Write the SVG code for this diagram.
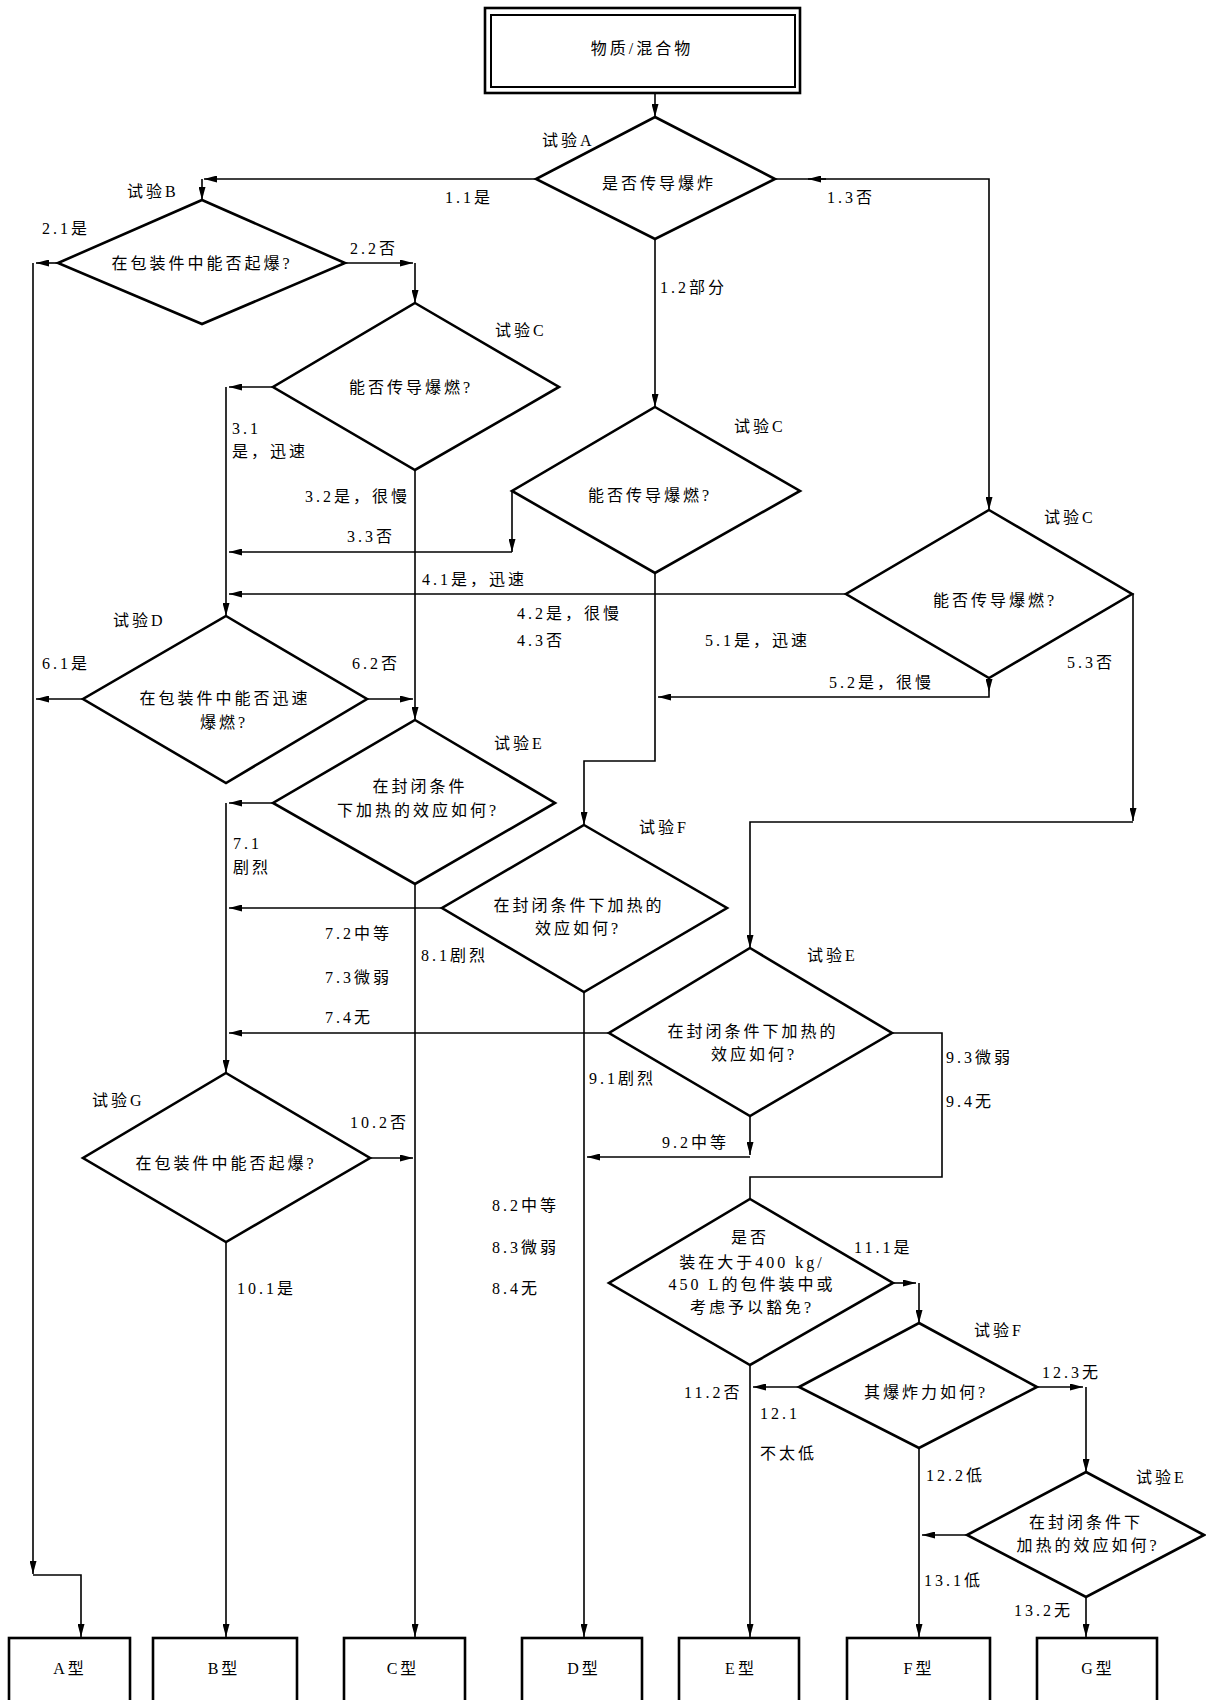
<svg xmlns="http://www.w3.org/2000/svg" width="1206" height="1700" viewBox="0 0 1206 1700">
<defs>
<marker id="ar" markerUnits="userSpaceOnUse" markerWidth="13" markerHeight="7" viewBox="0 0 13 7" refX="13" refY="3.5" orient="auto">
<path d="M0,0 L13,3.5 L0,7 z" fill="#000"/>
</marker>
<style>
.n{fill:#fff;stroke:#000;stroke-width:2.6;stroke-linejoin:miter}
.b{fill:#fff;stroke:#000;stroke-width:2.6}
.c{fill:none;stroke:#000;stroke-width:1.6}
.a{marker-end:url(#ar)}
.t{font-family:"Liberation Serif","Noto Sans CJK SC",serif;font-size:16px;letter-spacing:3px;fill:#000}
.m{text-anchor:middle}
</style>
</defs>
<rect width="1206" height="1700" fill="#fff"/>

<g id="connectors">
<path class="c a" d="M655,93 L655,117"/>
<path class="c a" d="M536,179 L204,179"/>
<path class="c a" d="M202,179 L202,200"/>
<path class="c a" d="M775,179 L989,179 L989,510"/>
<path class="c a" d="M826,179 L808,179"/>
<path class="c a" d="M655,239 L655,407"/>
<path class="c a" d="M58,263 L36,263"/>
<path class="c a" d="M33,263 L33,1574"/>
<path class="c a" d="M33,1575 L81,1575 L81,1637"/>
<path class="c a" d="M345,263 L413,263"/>
<path class="c a" d="M415,263 L415,303"/>
<path class="c a" d="M273,387 L229,387"/>
<path class="c a" d="M226,387 L226,616"/>
<path class="c a" d="M415,470 L415,720"/>
<path class="c a" d="M512,491 L512,552"/>
<path class="c a" d="M512,552 L229,552"/>
<path class="c a" d="M846,594 L229,594"/>
<path class="c a" d="M655,573 L655,761 L584,761 L584,825"/>
<path class="c a" d="M989,678 L989,692"/>
<path class="c a" d="M989,692 L989,697 L658,697"/>
<path class="c a" d="M1132,594 L1133,594 L1133,821"/>
<path class="c a" d="M1133,822 L750,822 L750,948"/>
<path class="c a" d="M83,699 L36,699"/>
<path class="c a" d="M367,699 L413,699"/>
<path class="c a" d="M273,803 L229,803"/>
<path class="c a" d="M226,803 L226,1073"/>
<path class="c a" d="M415,884 L415,1637"/>
<path class="c a" d="M442,908 L229,908"/>
<path class="c a" d="M609,1033 L229,1033"/>
<path class="c a" d="M584,992 L584,1637"/>
<path class="c a" d="M750,1116 L750,1155"/>
<path class="c a" d="M750,1157 L587,1157"/>
<path class="c" d="M892,1033 L942,1033 L942,1177 L750,1177 L750,1199"/>
<path class="c a" d="M893,1283 L916,1283"/>
<path class="c a" d="M919,1283 L919,1323"/>
<path class="c a" d="M750,1365 L750,1637"/>
<path class="c a" d="M799,1387 L753,1387"/>
<path class="c a" d="M1037,1387 L1083,1387"/>
<path class="c a" d="M1086,1387 L1086,1472"/>
<path class="c a" d="M919,1448 L919,1637"/>
<path class="c a" d="M967,1535 L922,1535"/>
<path class="c a" d="M1086,1597 L1086,1637"/>
<path class="c a" d="M370,1158 L413,1158"/>
<path class="c a" d="M226,1242 L226,1637"/>
</g>

<g id="labels">
<text class="t" x="445" y="203">1.1是</text>
<text class="t" x="827" y="203">1.3否</text>
<text class="t" x="660" y="293">1.2部分</text>
<text class="t" x="42" y="234">2.1是</text>
<text class="t" x="350" y="254">2.2否</text>
<text class="t" x="232" y="434">3.1</text>
<text class="t" x="232" y="457">是，迅速</text>
<text class="t" x="305" y="502">3.2是，很慢</text>
<text class="t" x="347" y="542">3.3否</text>
<text class="t" x="422" y="585">4.1是，迅速</text>
<text class="t" x="517" y="619">4.2是，很慢</text>
<text class="t" x="517" y="646">4.3否</text>
<text class="t" x="705" y="646">5.1是，迅速</text>
<text class="t" x="829" y="688">5.2是，很慢</text>
<text class="t" x="1067" y="668">5.3否</text>
<text class="t" x="42" y="669">6.1是</text>
<text class="t" x="352" y="669">6.2否</text>
<text class="t" x="233" y="849">7.1</text>
<text class="t" x="233" y="873">剧烈</text>
<text class="t" x="325" y="939">7.2中等</text>
<text class="t" x="325" y="983">7.3微弱</text>
<text class="t" x="325" y="1023">7.4无</text>
<text class="t" x="421" y="961">8.1剧烈</text>
<text class="t" x="492" y="1211">8.2中等</text>
<text class="t" x="492" y="1253">8.3微弱</text>
<text class="t" x="492" y="1294">8.4无</text>
<text class="t" x="589" y="1084">9.1剧烈</text>
<text class="t" x="662" y="1148">9.2中等</text>
<text class="t" x="946" y="1063">9.3微弱</text>
<text class="t" x="946" y="1107">9.4无</text>
<text class="t" x="237" y="1294">10.1是</text>
<text class="t" x="350" y="1128">10.2否</text>
<text class="t" x="854" y="1253">11.1是</text>
<text class="t" x="684" y="1398">11.2否</text>
<text class="t" x="760" y="1419">12.1</text>
<text class="t" x="760" y="1459">不太低</text>
<text class="t" x="926" y="1481">12.2低</text>
<text class="t" x="1042" y="1378">12.3无</text>
<text class="t" x="924" y="1586">13.1低</text>
<text class="t" x="1014" y="1616">13.2无</text>
</g>

<g id="start">
<rect x="485" y="8" width="315" height="85" fill="#fff" stroke="#000" stroke-width="2.6"/>
<rect x="491" y="15" width="304" height="72" fill="none" stroke="#000" stroke-width="2"/>
<text class="t m" x="642" y="54">物质/混合物</text>
</g>

<g id="testA">
<polygon class="n" points="655,117 775,179 655,239 536,179"/>
<text class="t m" x="659" y="189">是否传导爆炸</text>
<text class="t" x="542" y="146">试验A</text>
</g>

<g id="testB">
<polygon class="n" points="202,200 345,263 202,324 58,263"/>
<text class="t m" x="202" y="269">在包装件中能否起爆?</text>
<text class="t" x="127" y="197">试验B</text>
</g>

<g id="testC1">
<polygon class="n" points="415,303 559,387 415,470 273,387"/>
<text class="t m" x="411" y="393">能否传导爆燃?</text>
<text class="t" x="495" y="336">试验C</text>
</g>

<g id="testC2">
<polygon class="n" points="655,407 800,491 655,573 512,491"/>
<text class="t m" x="650" y="501">能否传导爆燃?</text>
<text class="t" x="734" y="432">试验C</text>
</g>

<g id="testC3">
<polygon class="n" points="989,510 1132,594 989,678 846,594"/>
<text class="t m" x="995" y="606">能否传导爆燃?</text>
<text class="t" x="1044" y="523">试验C</text>
</g>

<g id="testD">
<polygon class="n" points="226,616 367,699 226,783 83,699"/>
<text class="t m" x="225" y="704">在包装件中能否迅速</text>
<text class="t m" x="224" y="728">爆燃?</text>
<text class="t" x="113" y="626">试验D</text>
</g>

<g id="testE1">
<polygon class="n" points="415,720 555,803 415,884 273,803"/>
<text class="t m" x="420" y="792">在封闭条件</text>
<text class="t m" x="418" y="816">下加热的效应如何?</text>
<text class="t" x="494" y="749">试验E</text>
</g>

<g id="testF1">
<polygon class="n" points="584,825 727,908 584,992 442,908"/>
<text class="t m" x="579" y="911">在封闭条件下加热的</text>
<text class="t m" x="578" y="934">效应如何?</text>
<text class="t" x="639" y="833">试验F</text>
</g>

<g id="testE2">
<polygon class="n" points="750,948 892,1033 750,1116 609,1033"/>
<text class="t m" x="753" y="1037">在封闭条件下加热的</text>
<text class="t m" x="754" y="1060">效应如何?</text>
<text class="t" x="807" y="961">试验E</text>
</g>

<g id="q11">
<polygon class="n" points="750,1199 893,1283 750,1365 609,1283"/>
<text class="t m" x="750" y="1243">是否</text>
<text class="t m" x="752" y="1268">装在大于400 kg/</text>
<text class="t m" x="752" y="1290">450 L的包件装中或</text>
<text class="t m" x="752" y="1313">考虑予以豁免?</text>
</g>

<g id="testF2">
<polygon class="n" points="919,1323 1037,1387 919,1448 799,1387"/>
<text class="t m" x="926" y="1398">其爆炸力如何?</text>
<text class="t" x="974" y="1336">试验F</text>
</g>

<g id="testE3">
<polygon class="n" points="1086,1472 1204,1535 1086,1597 967,1535"/>
<text class="t m" x="1086" y="1528">在封闭条件下</text>
<text class="t m" x="1088" y="1551">加热的效应如何?</text>
<text class="t" x="1136" y="1483">试验E</text>
</g>

<g id="testG">
<polygon class="n" points="226,1073 370,1158 226,1242 83,1158"/>
<text class="t m" x="226" y="1169">在包装件中能否起爆?</text>
<text class="t" x="92" y="1106">试验G</text>
</g>

<g id="typeA"><rect class="b" x="9" y="1638" width="121" height="75"/><text class="t m" x="70" y="1674">A型</text></g>
<g id="typeB"><rect class="b" x="153" y="1638" width="144" height="75"/><text class="t m" x="224" y="1674">B型</text></g>
<g id="typeC"><rect class="b" x="344" y="1638" width="121" height="75"/><text class="t m" x="403" y="1674">C型</text></g>
<g id="typeD"><rect class="b" x="522" y="1638" width="120" height="75"/><text class="t m" x="584" y="1674">D型</text></g>
<g id="typeE"><rect class="b" x="679" y="1638" width="120" height="75"/><text class="t m" x="741" y="1674">E型</text></g>
<g id="typeF"><rect class="b" x="847" y="1638" width="143" height="75"/><text class="t m" x="919" y="1674">F型</text></g>
<g id="typeG"><rect class="b" x="1037" y="1638" width="120" height="75"/><text class="t m" x="1098" y="1674">G型</text></g>
</svg>
